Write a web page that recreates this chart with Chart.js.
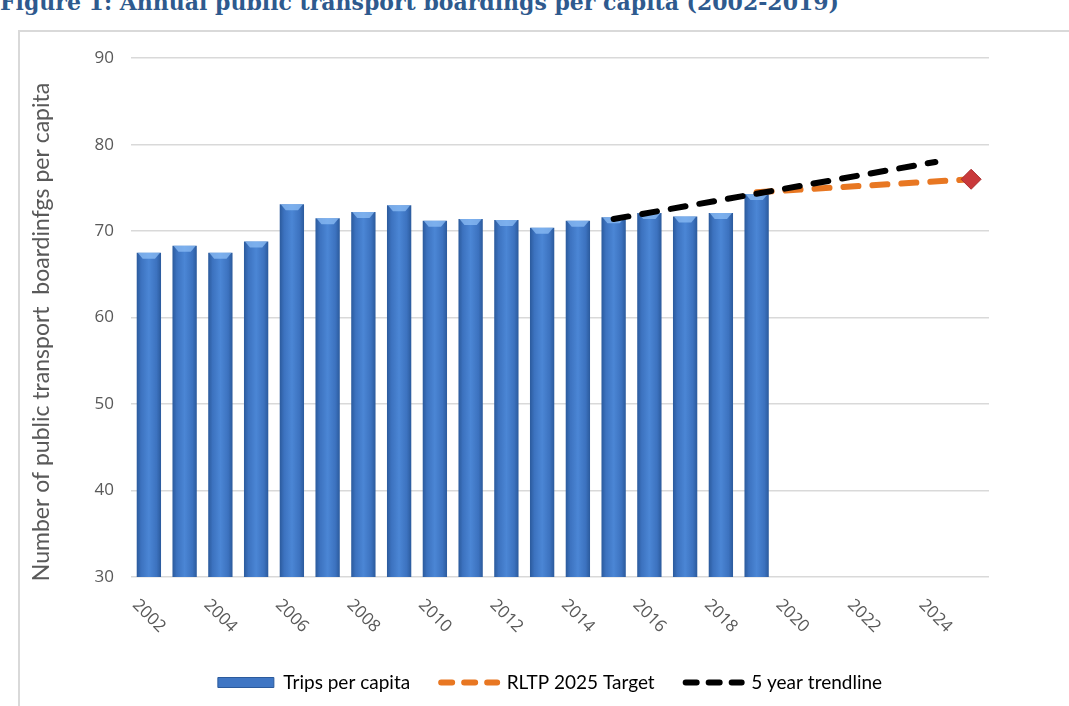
<!DOCTYPE html>
<html>
<head>
<meta charset="utf-8">
<script src="https://cdn.jsdelivr.net/npm/chart.js@4.4.1/dist/chart.umd.min.js"></script>
<style>
  html, body { margin: 0; padding: 0; background: #fff; overflow: hidden; }
  body { width: 1069px; height: 706px; position: relative; }
  #title {
    position: absolute; left: 0; top: -10px; white-space: nowrap;
    font: bold 22px "DejaVu Serif", serif; line-height: 24px; color: #2e5a8e;
  }
  #frame {
    position: absolute; left: 18px; top: 30px; width: 1080px; height: 700px;
    border: 2px solid #d9d9d9; box-sizing: border-box;
  }
  #wrap { position: absolute; left: 19px; top: 31px; width: 1062px; height: 675px; }
</style>
</head>
<body>
<div id="title">Figure 1: Annual public transport boardings per capita (2002-2019)</div>
<div id="frame"></div>
<div id="wrap"><canvas id="chart1"></canvas></div>
<script>
// years on the category axis (data runs to 2019, targets to 2025)
const years = ['2002', '2003', '2004', '2005', '2006', '2007', '2008', '2009', '2010', '2011', '2012', '2013',
  '2014', '2015', '2016', '2017', '2018', '2019', '2020', '2021', '2022', '2023', '2024', '2025'];

// trips per capita
const trips = [67.5, 68.3, 67.5, 68.8, 73.1, 71.5, 72.2, 73.0, 71.2, 71.4, 71.3, 70.4,
  71.2, 71.6, 72.1, 71.7, 72.1, 74.3, null, null, null, null, null, null];

// RLTP 2025 target line: from 2019 actual to the 2025 target
const target = [null, null, null, null, null, null, null, null, null, null, null, null,
  null, null, null, null, null, 74.5, null, null, null, null, null, 76.0];

// 5 year trendline: 2015 -> 2024
const trend = [null, null, null, null, null, null, null, null, null, null, null, null,
  null, 71.4, null, null, null, null, null, null, null, null, 78.0, null];

const yTicks = [30, 40, 50, 60, 70, 80, 90];
const yTitle = 'Number of public transport  boardinfgs per capita';

const BAR_PCT = 0.68;

function barFill(c) {
    const chart = c.chart;
    const xs = chart.scales.x;
    if (!chart.chartArea || !xs || c.type !== 'data') return '#4179c6';
    const cx = xs.getPixelForValue(c.dataIndex);
    const half = xs.width / years.length * BAR_PCT / 2;
    const g = chart.ctx.createLinearGradient(cx - half, 0, cx + half, 0);
    g.addColorStop(0, '#2b5a9c');
    g.addColorStop(0.18, '#3c72bf');
    g.addColorStop(0.5, '#4b86d5');
    g.addColorStop(0.82, '#3c72bf');
    g.addColorStop(1, '#2b5a9c');
    return g;
}

// light bevel at the top of each bar, like the original
const bevel = {
    id: 'bevel',
    afterDatasetDraw(chart, args) {
        if (args.index !== 0) return;
        const ctx = chart.ctx;
        chart.getDatasetMeta(0).data.forEach(function (bar, i) {
            if (trips[i] == null) return;
            const w = bar.width, x0 = bar.x - w / 2, top = bar.y;
            ctx.save();
            ctx.fillStyle = 'rgba(140,190,245,0.75)';
            ctx.beginPath();
            ctx.moveTo(x0 + 1, top);
            ctx.lineTo(x0 + w - 1, top);
            ctx.lineTo(x0 + w - 6, top + 6);
            ctx.lineTo(x0 + 6, top + 6);
            ctx.closePath();
            ctx.fill();
            ctx.restore();
        });
    }
};

// rotated year labels (every second year) and the y axis title
const axisText = {
    id: 'axisText',
    afterDraw(chart) {
        const ctx = chart.ctx;
        const xs = chart.scales.x;
        const area = chart.chartArea;
        ctx.save();
        ctx.fillStyle = '#595959';
        ctx.font = '17px "Open Sans", sans-serif';
        ctx.textAlign = 'center';
        ctx.textBaseline = 'middle';
        years.forEach(function (y, i) {
            if (i % 2 !== 0) return;
            ctx.save();
            ctx.translate(xs.getPixelForValue(i), area.bottom + 39);
            ctx.rotate(Math.PI / 4);
            ctx.fillText(y, 0, 0);
            ctx.restore();
        });
        ctx.font = '23px Lato, sans-serif';
        ctx.translate(23, 301);
        ctx.rotate(-Math.PI / 2);
        ctx.fillText(yTitle, 0, 0);
        ctx.restore();
    }
};

const legendItems = [
    { text: 'Trips per capita', fillStyle: '#3f76c4', strokeStyle: '#2b5a9c', lineWidth: 1, pointStyle: 'rect', lineDash: [] },
    { text: 'RLTP 2025 Target', fillStyle: '#e87722', strokeStyle: '#e87722', lineWidth: 6, pointStyle: 'line', lineDash: [11, 12], lineCap: 'round' },
    { text: '5 year trendline', fillStyle: '#000', strokeStyle: '#000', lineWidth: 6, pointStyle: 'line', lineDash: [11, 12], lineCap: 'round' }
];

const ctx = document.getElementById('chart1');

let chart = new Chart(ctx, {
    type: 'bar',
    data: {
        labels: years,
        datasets: [{
            label: 'Trips per capita',
            data: trips,
            backgroundColor: barFill,
            barPercentage: BAR_PCT,
            categoryPercentage: 1,
            order: 3
        },
        {
            type: 'line',
            label: 'RLTP 2025 Target',
            data: target,
            spanGaps: true,
            borderColor: '#e87722',
            borderWidth: 6,
            borderDash: [15, 14],
            borderCapStyle: 'round',
            pointStyle: 'rectRot',
            pointRadius: c => c.dataIndex === years.length - 1 ? 10 : 0,
            pointBackgroundColor: '#c9393b',
            pointBorderColor: '#a82b2d',
            pointBorderWidth: 1,
            order: 2
        },
        {
            type: 'line',
            label: '5 year trendline',
            data: trend,
            spanGaps: true,
            borderColor: '#000000',
            borderWidth: 6,
            borderDash: [15, 14],
            borderCapStyle: 'round',
            pointRadius: 0,
            order: 1
        }]
    },
    options: {
        responsive: true,
        maintainAspectRatio: false,
        animation: false,
        layout: { padding: { top: 22, right: 0, left: 0, bottom: 4 } },
        scales: {
            x: {
                grid: { display: false },
                border: { display: false },
                ticks: { display: false },
                afterFit: s => { s.height = 65; }
            },
            y: {
                min: 30,
                max: 90,
                afterBuildTicks: s => { s.ticks = yTicks.map(v => ({ value: v })); },
                grid: { color: '#d9d9d9', lineWidth: 1.5, drawTicks: false },
                border: { display: false },
                ticks: { color: '#595959', font: { family: '"Open Sans", sans-serif', size: 17 }, padding: 17 },
                afterFit: s => { s.width = 112; }
            },
            // empty right margin so the legend centres on the whole frame
            pad: {
                type: 'linear',
                position: 'right',
                min: 0,
                max: 1,
                grid: { display: false },
                border: { display: false },
                ticks: { display: false },
                afterFit: s => { s.width = 92; }
            }
        },
        plugins: {
            tooltip: { enabled: false },
            legend: {
                position: 'bottom',
                labels: {
                    usePointStyle: true,
                    pointStyleWidth: 56,
                    boxHeight: 10,
                    padding: 31,
                    color: '#404040',
                    font: { family: 'Lato, sans-serif', size: 19 },
                    generateLabels: () => legendItems.map(it => Object.assign({ hidden: false, datasetIndex: 0 }, it))
                }
            }
        }
    },
    plugins: [bevel, axisText]
});
</script>
</body>
</html>
